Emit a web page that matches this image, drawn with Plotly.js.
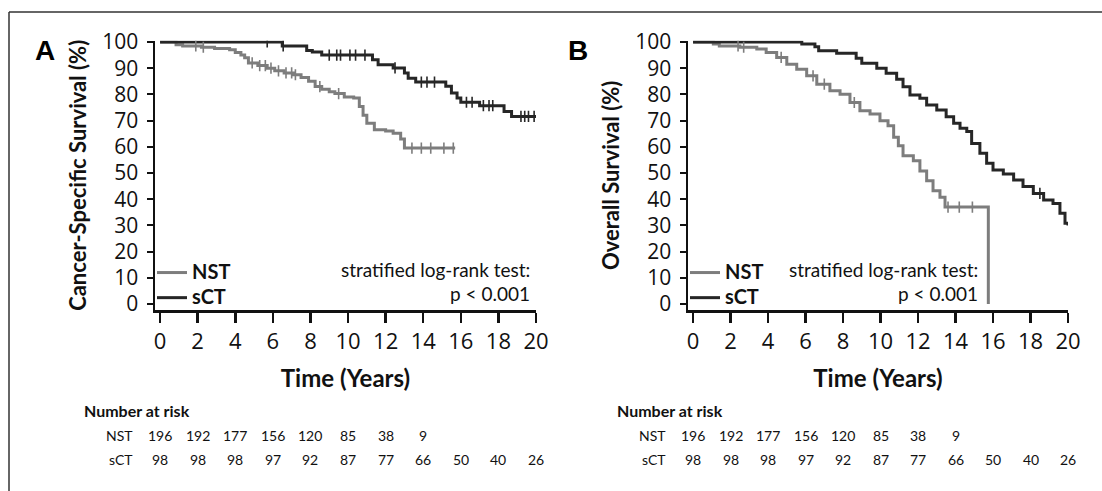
<!DOCTYPE html>
<html>
<head>
<meta charset="utf-8">
<script src="https://cdn.plot.ly/plotly-3.0.1.min.js"></script>
<style>
  html, body { margin: 0; padding: 0; background: #ffffff; }
  #chart { width: 1102px; height: 491px; }
</style>
</head>
<body>
<div id="chart"></div>
<script>
// ---------------- DATA ----------------
// Panel A: Cancer-specific survival (Kaplan-Meier steps, % surviving after each event time)
const cssNstTime = [0, 0.85, 1.2, 2.2, 2.9, 3.7, 4.0, 4.3, 4.5, 4.7, 5.2, 5.7, 6.1, 6.6, 7.1, 7.5, 7.9, 8.25, 8.6, 9.0, 9.3, 9.8, 10.3, 10.6, 10.8, 11.0, 11.4, 12.0, 12.4, 12.8, 13.0, 15.7];
const cssNstSurv = [100, 99, 98.5, 98, 97.5, 97, 96, 95, 94, 92, 91, 90, 89, 88.2, 87.5, 86.5, 85, 83, 82, 81, 80.3, 79, 78.6, 75.4, 72, 69, 66.5, 66, 65.2, 63, 59.5, 59.5];
const cssNstCens = [1.9, 2.3, 4.9, 5.3, 5.6, 5.9, 6.3, 6.7, 7.0, 7.2, 8.5, 9.5, 13.4, 13.9, 14.4, 15.1, 15.6];

const cssSctTime = [0, 6.5, 7.8, 8.1, 8.6, 11.3, 11.6, 12.4, 13.0, 13.2, 13.6, 15.2, 15.5, 15.8, 16.0, 17.0, 18.3, 18.7, 20];
const cssSctSurv = [100, 98.5, 96.8, 96.2, 95.0, 93.2, 91.3, 90.1, 88.2, 86.2, 84.7, 83.1, 80.5, 78.6, 77.0, 75.7, 73.5, 71.6, 71.6];
const cssSctCens = [5.7, 6.55, 9.0, 9.4, 9.6, 10.1, 10.4, 10.9, 12.5, 13.9, 14.2, 14.6, 16.3, 16.6, 17.2, 17.5, 17.7, 19.2, 19.4, 19.6, 19.9];

// Panel B: Overall survival
const osNstTime = [0, 1.08, 1.4, 2.5, 3.4, 3.9, 4.46, 5.0, 5.53, 6.06, 6.6, 7.3, 7.84, 8.37, 8.9, 9.44, 9.97, 10.4, 10.7, 10.95, 11.2, 11.75, 12.1, 12.46, 12.8, 13.17, 13.44, 15.75];
const osNstSurv = [100, 99.2, 98.5, 98, 97.3, 96, 94.1, 91.5, 89.6, 87.1, 83.9, 81.4, 80.1, 76.9, 73.8, 72.5, 69.9, 68.0, 63.6, 60.4, 56.6, 54.7, 50.8, 47, 43.2, 40.7, 37.0, 0];
const osNstCens = [2.4, 2.7, 4.7, 6.4, 7.0, 8.6, 13.6, 14.2, 14.9];

const osSctTime = [0, 5.8, 6.5, 6.7, 7.66, 8.7, 9.0, 9.8, 10.3, 10.86, 11.2, 11.57, 12.1, 12.46, 13.0, 13.5, 13.9, 14.24, 14.6, 14.86, 15.3, 15.66, 16.0, 16.55, 17.1, 17.6, 18.15, 18.7, 19.2, 19.57, 19.84, 20.0];
const osSctSurv = [100, 99.2, 98.2, 96.7, 95.7, 93.8, 91.9, 90.0, 88.1, 85.8, 82.9, 79.8, 78.5, 76.0, 74.0, 71.5, 69.0, 67.1, 65.8, 61.3, 57.5, 53.7, 51.1, 49.6, 47.3, 44.8, 42.2, 39.7, 38.4, 34.6, 30.8, 30.0];
const osSctCens = [18.5];

// Number at risk table
const riskTimes = [0, 2, 4, 6, 8, 10, 12, 14, 16, 18, 20];
const riskNst = [196, 192, 177, 156, 120, 85, 38, 9];
const riskSct = [98, 98, 98, 97, 92, 87, 77, 66, 50, 40, 26];

const groupNames = ['NST', 'sCT'];
const panelLetters = ['A', 'B'];
const yTitles = ['Cancer-Specific Survival (%)', 'Overall Survival (%)'];
const xTitle = 'Time (Years)';
const testLabel = 'stratified log-rank test:';
const pLabel = 'p < 0.001';

// ---------------- STYLE ----------------
const W = 1102, H = 491;
const colNst = '#7d7d7d';
const colSct = '#262626';
const px = v => v / W;
const py = v => 1 - v / H;

function stepValue(times, surv, t) {
  let v = surv[0];
  for (let i = 0; i < times.length; i++) { if (times[i] <= t) v = surv[i]; }
  return v;
}

function curve(times, surv, color, name, xa, ya, legend, show) {
  return {
    type: 'scatter', mode: 'lines', x: times, y: surv, xaxis: xa, yaxis: ya,
    line: { shape: 'hv', color: color, width: 3 },
    name: '<span style="font-size:20px">' + name + '</span>',
    showlegend: show, legend: legend, hoverinfo: 'skip'
  };
}
function cens(ct, times, surv, color, xa, ya) {
  return {
    type: 'scatter', mode: 'markers', x: ct, y: ct.map(t => stepValue(times, surv, t)),
    xaxis: xa, yaxis: ya, showlegend: false, hoverinfo: 'skip',
    marker: { symbol: 'line-ns-open', size: 8, color: color, line: { color: color, width: 1.6 } }
  };
}

const traces = [
  curve(cssNstTime, cssNstSurv, colNst, groupNames[0], 'x', 'y', 'legend', true),
  curve(cssSctTime, cssSctSurv, colSct, groupNames[1], 'x', 'y', 'legend', true),
  cens(cssNstCens, cssNstTime, cssNstSurv, colNst, 'x', 'y'),
  cens(cssSctCens, cssSctTime, cssSctSurv, colSct, 'x', 'y'),
  curve(osNstTime, osNstSurv, colNst, groupNames[0], 'x2', 'y2', 'legend2', true),
  curve(osSctTime, osSctSurv, colSct, groupNames[1], 'x2', 'y2', 'legend2', true),
  cens(osNstCens, osNstTime, osNstSurv, colNst, 'x2', 'y2'),
  cens(osSctCens, osSctTime, osSctSurv, colSct, 'x2', 'y2')
];

const tickFontY = { family: 'Open Sans', size: 21, color: '#111' };
const tickFontX = { family: 'Open Sans', size: 22, color: '#111' };
const titleFont = { family: 'Lato', size: 22, color: '#111', weight: 'bold' };

function xAxis(domain, anchor) {
  return {
    domain: domain, anchor: anchor, range: [-0.27, 20], tick0: 0, dtick: 2,
    showline: true, linewidth: 2.5, linecolor: '#111', ticks: 'outside', ticklen: 10,
    tickwidth: 2.5, tickcolor: '#111', tickfont: tickFontX, showgrid: false, zeroline: false,
    title: { text: xTitle, font: { family: 'Lato', size: 24, color: '#111', weight: 'bold' }, standoff: 17 },
    fixedrange: true
  };
}
function yAxis(domain, anchor, title) {
  return {
    domain: domain, anchor: anchor, range: [-2.3, 100.5], tick0: 0, dtick: 10,
    showline: true, linewidth: 2.5, linecolor: '#111', ticks: 'outside', ticklen: 6,
    tickwidth: 2, tickcolor: '#111', tickfont: tickFontY, showgrid: false, zeroline: false,
    ticklabelstandoff: 4,
    title: { text: title, font: titleFont, standoff: 10 }, fixedrange: true
  };
}

const yDom = [py(310), py(40.7)];
const legendStyle = (x) => ({
  x: x, y: py(255), xanchor: 'left', yanchor: 'top', bgcolor: 'rgba(0,0,0,0)',
  font: { family: 'Lato', size: 17, color: '#111', weight: 'bold' }, tracegroupgap: 0,
  itemwidth: 30
});

const annotations = [];
const panels = [
  { xa: 'x', letterX: 33, tableLeft: 82, labelRight: 135, statX: 19.8 },
  { xa: 'x2', letterX: 566, tableLeft: 615, labelRight: 668, statX: 15.3 }
];
panels.forEach((p, i) => {
  const ya = i === 0 ? 'y' : 'y2';
  annotations.push({ xref: 'paper', yref: 'paper', x: px(p.letterX), y: py(51), xanchor: 'left', yanchor: 'middle',
    text: '<b>' + panelLetters[i] + '</b>', showarrow: false, font: { family: 'Liberation Sans', size: 28, color: '#000' } });
  annotations.push({ xref: p.xa, yref: ya, x: p.statX, y: (304 - 270) / 2.62, xanchor: 'right', yanchor: 'middle',
    text: testLabel, showarrow: false, font: { family: 'Lato', size: 19, color: '#111' } });
  annotations.push({ xref: p.xa, yref: ya, x: p.statX, y: (304 - 294) / 2.62, xanchor: 'right', yanchor: 'middle',
    text: pLabel, showarrow: false, font: { family: 'Lato', size: 19, color: '#111' } });
  annotations.push({ xref: 'paper', yref: 'paper', x: px(p.tableLeft), y: py(410), xanchor: 'left', yanchor: 'middle',
    text: '<b>Number at risk</b>', showarrow: false, font: { family: 'Lato', size: 16, color: '#111' } });
  annotations.push({ xref: 'paper', yref: 'paper', x: px(p.labelRight), y: py(435), xanchor: 'right', yanchor: 'middle',
    text: groupNames[0], showarrow: false, font: { family: 'Lato', size: 14, color: '#111' } });
  annotations.push({ xref: 'paper', yref: 'paper', x: px(p.labelRight), y: py(459), xanchor: 'right', yanchor: 'middle',
    text: groupNames[1], showarrow: false, font: { family: 'Lato', size: 14, color: '#111' } });
  riskNst.forEach((n, k) => annotations.push({ xref: p.xa, yref: 'paper', x: riskTimes[k], y: py(435), xanchor: 'center', yanchor: 'middle',
    text: String(n), showarrow: false, font: { family: 'Lato', size: 14, color: '#111' } }));
  riskSct.forEach((n, k) => annotations.push({ xref: p.xa, yref: 'paper', x: riskTimes[k], y: py(459), xanchor: 'center', yanchor: 'middle',
    text: String(n), showarrow: false, font: { family: 'Lato', size: 14, color: '#111' } }));
});

const layout = {
  width: W, height: H, margin: { l: 0, r: 0, t: 0, b: 0 },
  paper_bgcolor: '#fff', plot_bgcolor: '#fff', showlegend: true,
  xaxis: xAxis([px(155), px(536)], 'y'),
  yaxis: yAxis(yDom, 'x', yTitles[0]),
  xaxis2: xAxis([px(688), px(1068)], 'y2'),
  yaxis2: yAxis(yDom, 'x2', yTitles[1]),
  legend: legendStyle(px(152)),
  legend2: legendStyle(px(685)),
  annotations: annotations,
  shapes: [
    { type: 'line', xref: 'paper', yref: 'paper', x0: px(9), x1: px(1102), y0: py(12), y1: py(12), line: { color: '#333', width: 1.5 } },
    { type: 'line', xref: 'paper', yref: 'paper', x0: px(9), x1: px(9), y0: py(12), y1: py(491), line: { color: '#333', width: 1.5 } }
  ]
};

Plotly.newPlot('chart', traces, layout, { displayModeBar: false, staticPlot: true });
</script>
</body>
</html>
